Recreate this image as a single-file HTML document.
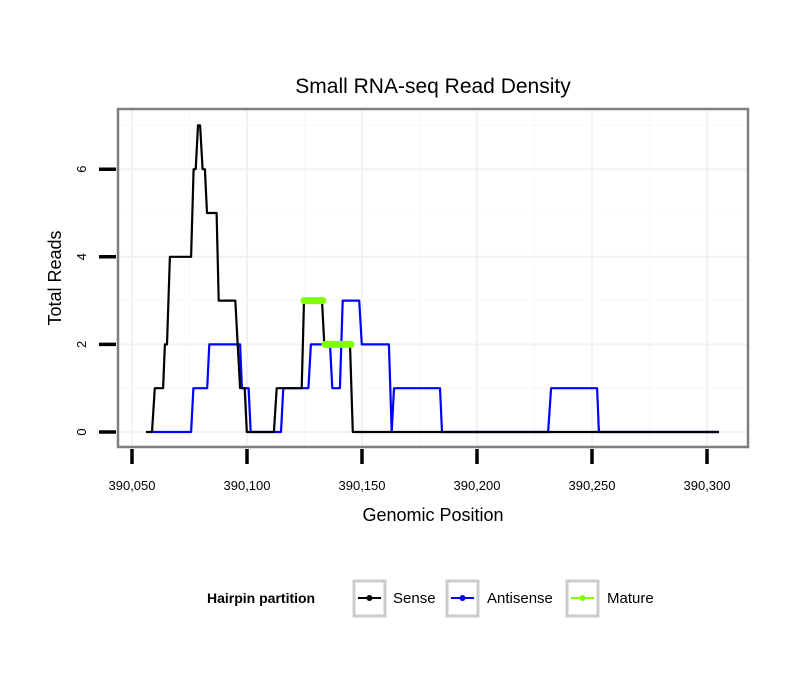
<!DOCTYPE html>
<html><head><meta charset="utf-8"><style>
body{margin:0;background:#fff;}
svg{display:block;font-family:"Liberation Sans",sans-serif;}
</style></head><body>
<svg id="chart" width="810" height="690" viewBox="0 0 810 690">
<text x="433" y="93" font-size="21" text-anchor="middle">Small RNA-seq Read Density</text>
<g id="grid"></g>
<g id="series"></g>
<rect x="118" y="109" width="630" height="338" fill="none" stroke="#7f7f7f" stroke-width="2.5"/>
<g id="axes"></g>
<text x="433" y="521" font-size="18" text-anchor="middle">Genomic Position</text>
<text transform="translate(61,278) rotate(-90)" font-size="18" text-anchor="middle">Total Reads</text>
<g>
<text x="207" y="603" font-size="14" font-weight="bold">Hairpin partition</text>
<g>
<rect x="354" y="581" width="31" height="35" fill="#fff" stroke="#cccccc" stroke-width="3"/>
<line x1="358" y1="598" x2="381" y2="598" stroke="#000" stroke-width="2"/><circle cx="369.5" cy="598" r="3" fill="#000"/>
<text x="393" y="603" font-size="15">Sense</text></g>
<g>
<rect x="447" y="581" width="31" height="35" fill="#fff" stroke="#cccccc" stroke-width="3"/>
<line x1="451" y1="598" x2="474" y2="598" stroke="#0000ff" stroke-width="2"/><circle cx="462.5" cy="598" r="3" fill="#0000ff"/>
<text x="487" y="603" font-size="15">Antisense</text></g>
<g>
<rect x="567" y="581" width="31" height="35" fill="#fff" stroke="#cccccc" stroke-width="3"/>
<line x1="571" y1="598" x2="594" y2="598" stroke="#7fff00" stroke-width="2"/><circle cx="582.5" cy="598" r="3" fill="#7fff00"/>
<text x="607" y="603" font-size="15">Mature</text></g>
</g>
</svg>
<script>
const xTicks = [390050, 390100, 390150, 390200, 390250, 390300];
const xTickLabels = ["390,050","390,100","390,150","390,200","390,250","390,300"];
const yTicks = [0, 2, 4, 6];
const yTickLabels = ["0","2","4","6"];
const sensePos = [390056.1,390058.7,390059.9,390063.5,390064.3,390065.2,390066.5,390075.7,390076.8,390077.7,390078.7,390079.6,390080.7,390081.7,390082.6,390086.8,390087.7,390094.9,390097,390099,390099.9,390111.7,390112.9,390123.8,390124.8,390132.6,390133.6,390144.8,390146,390305.2];
const senseVal = [0,0,1,1,2,2,4,4,6,6,7,7,6,6,5,5,3,3,1,1,0,0,1,1,3,3,2,2,0,0];
const antiPos = [390059.1,390075.7,390076.7,390082.7,390083.6,390097,390097.8,390100.7,390101.6,390114.8,390115.8,390126.7,390127.8,390136.1,390137.1,390140.4,390141.6,390148.8,390149.9,390161.7,390162.9,390163.9,390183.9,390184.8,390230.9,390232.2,390252.2,390253,390305.2];
const antiVal = [0,0,1,1,2,2,1,1,0,0,1,1,2,2,1,1,3,3,2,2,0,1,1,0,0,1,1,0,0];
const matureStart = [390124.8, 390133.9];
const matureEnd = [390133.0, 390145.2];
const matureVal = [3, 2];

const NS='http://www.w3.org/2000/svg';
const X = v => 132 + (v - 390050) * 2.3;
const Y = v => 432 - v * 43.8;
function mk(tag, attrs, parent){const e=document.createElementNS(NS,tag);for(const k in attrs)e.setAttribute(k,attrs[k]);parent.appendChild(e);return e;}
const grid=document.getElementById('grid'), series=document.getElementById('series'), axes=document.getElementById('axes');
// minor + major grid
for(let i=0;i<xTicks.length;i++){
  const l=mk('line',{x1:X(xTicks[i]),x2:X(xTicks[i]),y1:109,y2:447,stroke:'#f2f2f2','stroke-width':2},grid);
  
  
  if(i<xTicks.length-1){const m=(xTicks[i]+xTicks[i+1])/2;const g=mk('line',{x1:X(m),x2:X(m),y1:109,y2:447,stroke:'#f8f8f8','stroke-width':1},grid);
  
  }
}
for(let i=0;i<yTicks.length;i++){
  const l=mk('line',{x1:118,x2:748,y1:Y(yTicks[i]),y2:Y(yTicks[i]),stroke:'#f2f2f2','stroke-width':2},grid);
  
  
  const m=yTicks[i]+1;const g=mk('line',{x1:118,x2:748,y1:Y(m),y2:Y(m),stroke:'#f8f8f8','stroke-width':1},grid);
  
  
}
function path(pos,val,color,name){
  const d=pos.map((p,i)=>(i?'L':'M')+X(p).toFixed(1)+','+Y(val[i]).toFixed(1)).join('');
  const e=mk('path',{d:d,fill:'none',stroke:color,'stroke-width':2.2,'stroke-linejoin':'round'},series);
  
  
}
path(antiPos,antiVal,'#0000ff','antisense-line');
path(sensePos,senseVal,'#000000','sense-line');
for(let i=0;i<matureVal.length;i++){
  const e=mk('line',{x1:X(matureStart[i]),x2:X(matureEnd[i]),y1:Y(matureVal[i]),y2:Y(matureVal[i]),stroke:'#7fff00','stroke-width':7,'stroke-linecap':'round'},series);
  
  
}
for(let i=0;i<xTicks.length;i++){
  const t=mk('line',{x1:X(xTicks[i]),x2:X(xTicks[i]),y1:449,y2:464,stroke:'#000','stroke-width':3.5},axes);
  
  
  const s=mk('text',{x:X(xTicks[i]),y:490,'font-size':13,'text-anchor':'middle'},axes);
  s.textContent=xTickLabels[i];
  
  
}
for(let i=0;i<yTicks.length;i++){
  const t=mk('line',{x1:99,x2:116,y1:Y(yTicks[i]),y2:Y(yTicks[i]),stroke:'#000','stroke-width':3.5},axes);
  
  
  const s=mk('text',{transform:`translate(86,${Y(yTicks[i])}) rotate(-90)`,'font-size':13,'text-anchor':'middle'},axes);
  s.textContent=yTickLabels[i];
  
  
}
</script>
</body></html>
